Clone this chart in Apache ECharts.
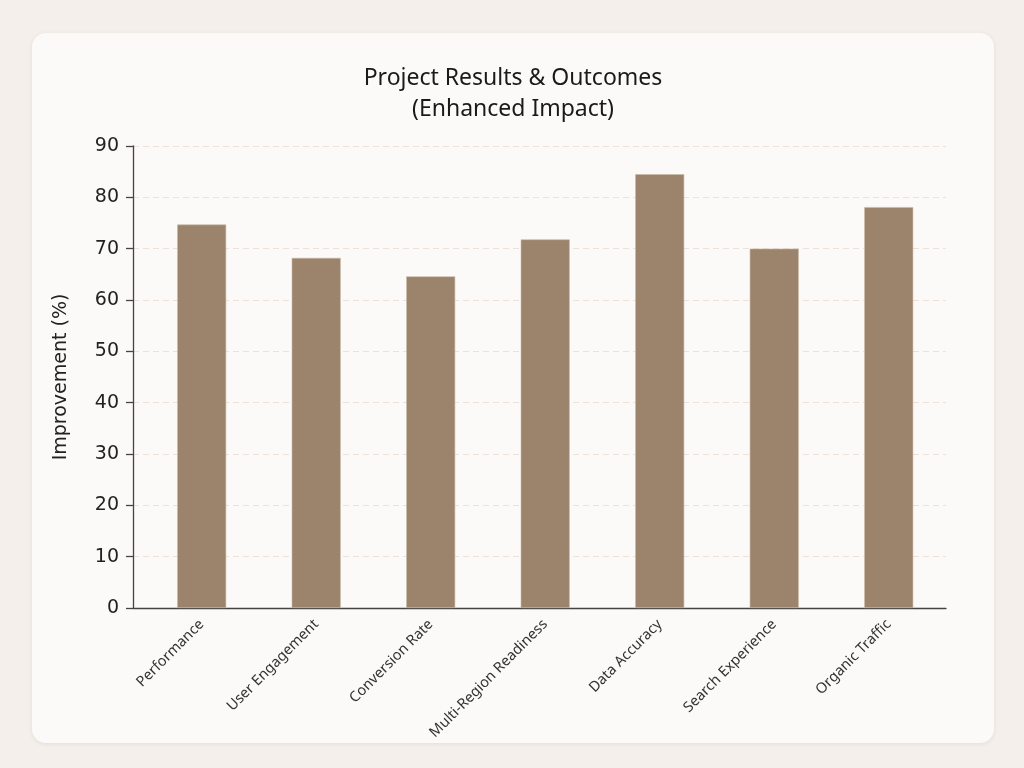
<!DOCTYPE html>
<html>
<head>
<meta charset="utf-8">
<script src="https://cdn.jsdelivr.net/npm/echarts@6/dist/echarts.min.js"></script>
<style>
  html, body { margin: 0; padding: 0; width: 1024px; height: 768px; background: #f4efea; overflow: hidden; }
  #card {
    position: absolute; left: 32px; top: 33px; width: 962px; height: 710px;
    background: #fbfaf8; border-radius: 14px;
    box-shadow: 0 1px 4px rgba(120, 100, 80, 0.12);
  }
  #main { width: 962px; height: 710px; }
</style>
</head>
<body>
<div id="card"><div id="main"></div></div>
<script>
var categories = ['Performance', 'User Engagement', 'Conversion Rate', 'Multi-Region Readiness',
  'Data Accuracy', 'Search Experience', 'Organic Traffic'];
var improvement = [74.7, 68.2, 64.6, 71.8, 84.5, 70.0, 78.1];
var yTicks = [0, 10, 20, 30, 40, 50, 60, 70, 80, 90];

// bars sit on category index positions; the axis has a little padding each side
var positions = categories.map(function (c, i) { return i; });
var barData = improvement.map(function (v, i) { return [positions[i], v]; });

var myChart = echarts.init(document.getElementById('main'));
myChart.setOption({
  animation: false,
  title: {
    text: 'Project Results & Outcomes\n(Enhanced Impact)',
    left: 'center',
    top: 25,
    textStyle: {
      fontFamily: 'Noto Sans',
      fontSize: 23,
      fontWeight: 'normal',
      color: '#1a1a1a',
      lineHeight: 31
    }
  },
  grid: { left: 101, right: 48, top: 113, bottom: 135 },
  xAxis: {
    type: 'value',
    min: -0.6,
    max: 6.5,
    splitLine: { show: false },
    axisLine: { show: true, onZero: false, lineStyle: { color: '#444', width: 1.3 } },
    axisTick: { show: false },
    axisLabel: {
      customValues: positions,
      formatter: function (v) { return categories[Math.round(v)]; },
      rotate: 45,
      margin: 14,
      fontFamily: 'Noto Sans',
      fontSize: 14.5,
      color: '#333'
    }
  },
  yAxis: {
    type: 'value',
    min: yTicks[0],
    max: yTicks[yTicks.length - 1],
    interval: 10,
    name: 'Improvement (%)',
    nameLocation: 'middle',
    nameGap: 62,
    nameTextStyle: { fontFamily: 'DejaVu Sans', fontSize: 19, color: '#222' },
    axisLine: { show: true, onZero: false, lineStyle: { color: '#444', width: 1.3 } },
    axisTick: { show: true, inside: false, length: 7, lineStyle: { color: '#444', width: 1.3 } },
    axisLabel: { fontFamily: 'DejaVu Sans', fontSize: 19, color: '#222', margin: 14 },
    splitLine: { lineStyle: { color: '#ede1d9', type: [6, 4], width: 1 } }
  },
  series: [{
    name: 'Improvement',
    type: 'bar',
    data: barData,
    barWidth: 49,
    itemStyle: {
      color: '#9b836c',
      borderColor: '#c9b8a6',
      borderWidth: 0.6
    }
  }]
});
</script>
</body>
</html>
